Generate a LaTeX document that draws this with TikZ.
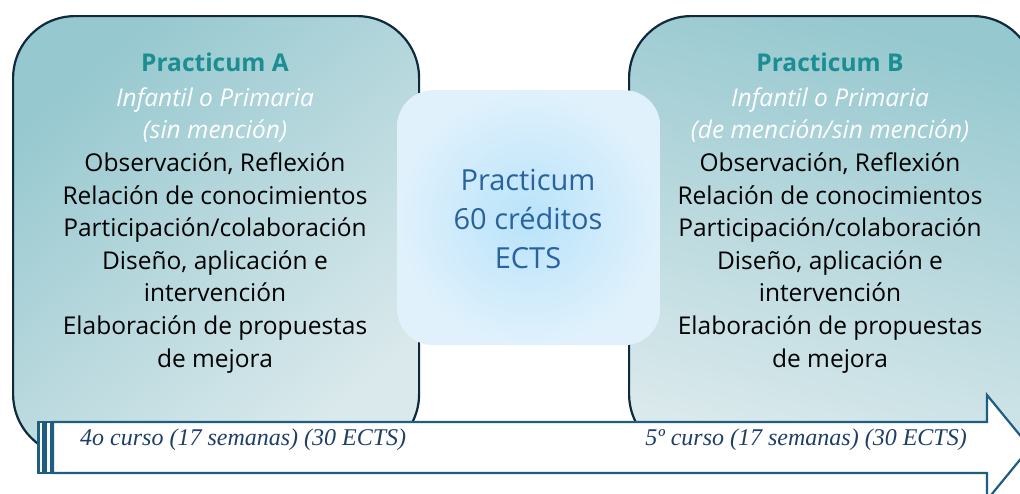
\documentclass[tikz,border=0pt]{standalone}
\usepackage{fontspec}
\usepackage{tikz}
\usetikzlibrary{positioning}
\setmainfont{Open Sans}
\newfontfamily\cursofont{Liberation Serif}

\definecolor{boxedge}{HTML}{0E2A3C}
\definecolor{titleteal}{HTML}{1A8E92}
\definecolor{tealdark}{HTML}{96C8CF}
\definecolor{teallight}{HTML}{DAE9EC}
\definecolor{ectsin}{HTML}{B8E3FA}
\definecolor{ectsout}{HTML}{E0F1FC}
\definecolor{ectstext}{HTML}{2A62A0}
\definecolor{arrowedge}{HTML}{1E5E80}
\definecolor{cursotext}{HTML}{1F3F68}

\tikzset{
  practbox/.style={draw=boxedge, line width=2.2pt, rounded corners=62pt,
    minimum width=406pt, minimum height=440pt, anchor=north west},
  practtext/.style={align=center, font=\fontsize{24.5}{32.6}\selectfont},
  ectsbox/.style={rounded corners=36pt, minimum width=263pt, minimum height=255pt,
    anchor=north west, inner color=ectsin, outer color=ectsout},
  timeline/.style={draw=arrowedge, line width=2.2pt, fill=white},
  curso/.style={font=\cursofont\itshape\fontsize{24}{28}\selectfont, text=cursotext, inner sep=0pt}
}

\begin{document}
\begin{tikzpicture}[x=1pt, y=-1pt]
  \useasboundingbox (0,0) rectangle (1020,493);
  \clip (0,0) rectangle (1020,493);

  % the two practicum periods
  \node [practbox, top color=tealdark, bottom color=teallight, shading angle=40]
    (boxA) at (12,15) {};
  \node [practbox, top color=tealdark, bottom color=teallight, shading angle=-15]
    (boxB) at (628,15) {};

  \node [practtext] (txtA) at (215,213) {%
    \textbf{\textcolor{titleteal}{Practicum A}}\\[2pt]
    \textcolor{white}{\itshape Infantil o Primaria}\\
    \textcolor{white}{\itshape (sin mención)}\\
    Observación, Reflexión\\
    Relación de conocimientos\\
    Participación/colaboración\\
    Diseño, aplicación e\\
    intervención\\
    Elaboración de propuestas\\
    de mejora};
  \node [practtext] (txtB) at (830,213) {%
    \textbf{\textcolor{titleteal}{Practicum B}}\\[2pt]
    \textcolor{white}{\itshape Infantil o Primaria}\\
    \textcolor{white}{\itshape (de mención/sin mención)}\\
    Observación, Reflexión\\
    Relación de conocimientos\\
    Participación/colaboración\\
    Diseño, aplicación e\\
    intervención\\
    Elaboración de propuestas\\
    de mejora};

  % total credits in the middle
  \node [ectsbox] (ects) at (397,90) {};
  \node [align=center, text=ectstext, font=\fontsize{29}{39}\selectfont]
    (ectstxt) at (528,219) {Practicum\\60 créditos\\ECTS};

  % time line
  \draw [timeline] (38.5,422) rectangle (43.5,473);
  \draw [timeline] (45.5,422) rectangle (51.5,473);
  \draw [timeline] (53,422) -- (987,422) -- (987,395) -- (1030,447.5)
    -- (987,500) -- (987,473) -- (53,473) -- cycle;

  \node [curso, anchor=west] (curso4) at (80,440) {4o curso (17 semanas) (30 ECTS)};
  \node [curso, anchor=east] (curso5) at (967,440) {5º curso (17 semanas) (30 ECTS)};
\end{tikzpicture}
\end{document}
